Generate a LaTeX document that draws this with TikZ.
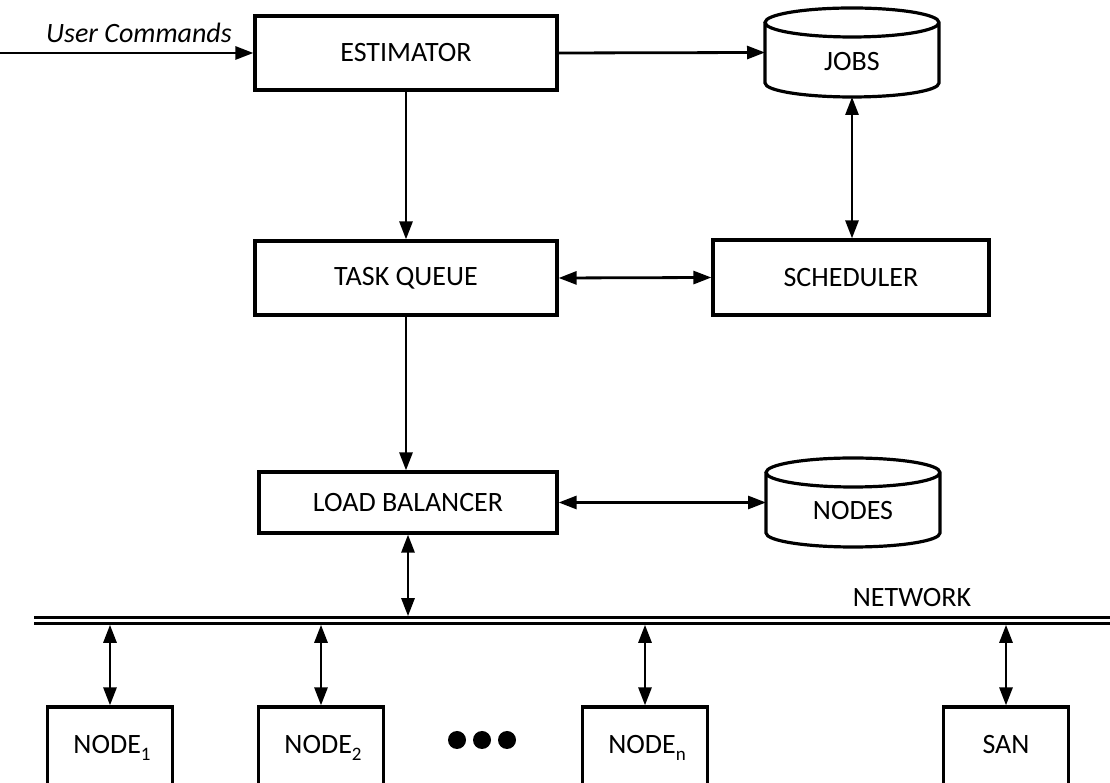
\documentclass[tikz,border=0pt]{standalone}
\usepackage{fontspec}
\setmainfont{Carlito}
\usetikzlibrary{arrows.meta}
\newcommand\mysub[1]{\raisebox{-7pt}{\fontsize{19}{19}\selectfont #1}}
\begin{document}
\begin{tikzpicture}[x=1pt,y=1pt,
  txt/.style={font=\fontsize{28}{32}\selectfont},
  box/.style={draw, line width=3.2pt, rectangle, inner sep=0pt, txt},
  dbnode/.style={rectangle, inner sep=0pt, outer sep=0pt, minimum width=174pt, minimum height=89pt},
  cylline/.style={line width=3.2pt},
  arr/.style={line width=2.8pt, -{Triangle[length=18pt,width=13pt]}},
  biarr/.style={line width=2.8pt, {Triangle[length=18pt,width=13pt]}-{Triangle[length=18pt,width=13pt]}},
  netline/.style={line width=2.6pt, double distance=3.4pt},
  dot/.style={circle, fill=black, inner sep=0pt, minimum size=18pt}
]
\useasboundingbox (0,0) rectangle (1110,783);

% boxes
\node[box, minimum width=302pt, minimum height=74pt] (est) at (406,730) {ESTIMATOR};
\node[box, minimum width=302pt, minimum height=74pt] (tq) at (406,505) {TASK QUEUE};
\node[box, minimum width=276pt, minimum height=75pt] (sched) at (851,505.5) {SCHEDULER};
\node[box, minimum width=298pt, minimum height=61pt] (lb) at (408,280.5) {LOAD BALANCER};

% cylinders
\node[dbnode] (jobs) at (852,730.5) {};
\node[dbnode] (nodes) at (853,280.5) {};
\foreach \c in {jobs,nodes}{
  \draw[cylline] ([yshift=-14.5pt]\c.north west) -- ([yshift=14pt]\c.south west)
    arc[start angle=180, end angle=360, x radius=87pt, y radius=14pt]
    -- ([yshift=-14.5pt]\c.north east)
    arc[start angle=0, end angle=180, x radius=87pt, y radius=14.5pt]
    arc[start angle=180, end angle=360, x radius=87pt, y radius=14.5pt];
}
\node[txt] (jobslbl) at ([yshift=-9pt]jobs.center) {JOBS};
\node[txt] (nodeslbl) at ([yshift=-8pt]nodes.center) {NODES};

% user commands
\coordinate (ucin) at (0,730);
\node[txt, font=\fontsize{28}{32}\selectfont\itshape, anchor=base] (uclbl) at (139,740) {User Commands};

% network
\coordinate (netW) at (34,162.5);
\coordinate (netE) at (1115,162.5);
\coordinate (netN) at (0,166.8);
\coordinate (netS) at (0,158.2);
\draw[netline] (netW) -- (netE);
\node[txt] (netlbl) at (912,185) {NETWORK};

% bottom nodes
\node[box, minimum width=125pt, minimum height=86pt] (n1) at (110,33) {};
\node[box, minimum width=125pt, minimum height=86pt] (n2) at (321,33) {};
\node[box, minimum width=125pt, minimum height=86pt] (nn) at (645,33) {};
\node[box, minimum width=125pt, minimum height=86pt] (san) at (1006,33) {};
\node[txt, anchor=base] (n1lbl) at (112,29) {NODE\mysub{1}};
\node[txt, anchor=base] (n2lbl) at (323,29) {NODE\mysub{2}};
\node[txt, anchor=base] (nnlbl) at (647,29) {NODE\mysub{n}};
\node[txt, anchor=base] (sanlbl) at (1006,29) {SAN};

% dots
\node[dot] (d1) at (457,43) {};
\node[dot] (d2) at (482,43) {};
\node[dot] (d3) at (507,43) {};

% connectors
\draw[arr] (ucin) -- (est.west);
\draw[arr] (est.east) -- (jobs.west);
\draw[arr] (est.south) -- (tq.north);
\draw[biarr] (jobs.south) -- (jobs.south |- sched.north);
\draw[biarr] (tq.east) -- (sched.west);
\draw[arr] (tq.south) -- (tq.south |- lb.north);
\draw[biarr] (lb.east) -- (nodes.west);
\draw[biarr] (lb.south) -- (lb.south |- netN);
\foreach \n in {n1,n2,nn,san}{
  \draw[biarr] (\n.north) -- (\n.north |- netS);
}
\end{tikzpicture}
\end{document}
